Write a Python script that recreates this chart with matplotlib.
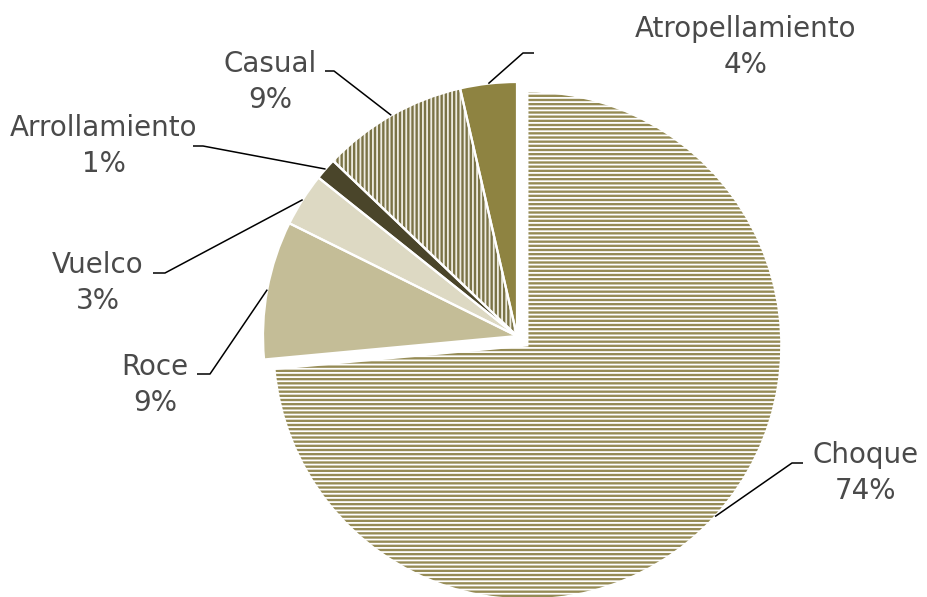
import numpy as np
import matplotlib
matplotlib.use('Agg')
import matplotlib.pyplot as plt

# Data (clockwise from 12 o'clock)

categories = ['Choque', 'Roce', 'Vuelco', 'Arrollamiento', 'Casual', 'Atropellamiento']
shares     = [73.6, 8.8, 3.4, 1.4, 9.3, 3.6]

# Styles

W, H     = 927, 597
COLORS   = ['#958B55', '#C4BD97', '#DDD9C3', '#4A452A', '#7A7346', '#8E8341']
HATCHES  = ['----', None, None, None, '||||', None]
HATCH_FG = ['white', None, None, None, '#EEECE1', None]
EXPLODE  = [14, 0, 0, 0, 0, 0]     # pie() offsets in data units (= pixels here)
TEXT     = '#4A4A4A'

# pie centre / radius in pixels (y measured from top of the image)
CX, CY_TOP, R = 517, 336, 254

# label layout, pixels from top-left: (text centre x, name baseline y), knee, line end
LAYOUT = [
    ((866, 463), (792, 463), (803, 463)),
    ((155, 375), (210, 374), (197, 374)),
    ((98, 273),  (165, 273), (153, 273)),
    ((104, 136), (203, 146), (193, 146)),
    ((270, 72),  (334, 71),  (325, 71)),
    ((746, 37),  (523, 53),  (534, 53)),
]

plt.rcParams['hatch.linewidth'] = 1.3
plt.rcParams['font.family'] = 'DejaVu Sans'

fig = plt.figure(figsize=(W / 100, H / 100), dpi=100)
ax = fig.add_axes([0, 0, 1, 1])

wedges, _ = ax.pie(shares, colors=COLORS, startangle=90, counterclock=False,
                   center=(CX, H - CY_TOP), radius=R, explode=EXPLODE,
                   wedgeprops=dict(linewidth=0), frame=True)

for w, h, fg in zip(wedges, HATCHES, HATCH_FG):
    if h:
        w.set_hatch(h)
        w.set_edgecolor(fg)
        w.set_linewidth(0)

# white separators drawn on top
ax.pie(shares, startangle=90, counterclock=False,
       center=(CX, H - CY_TOP), radius=R, explode=EXPLODE,
       wedgeprops=dict(facecolor='none', edgecolor='white', linewidth=1.6),
       frame=True)

for w, name, val, (txt, knee, end) in zip(wedges, categories, shares, LAYOUT):
    mid = np.radians((w.theta1 + w.theta2) / 2)
    px, py = w.center[0] + w.r * np.cos(mid), w.center[1] + w.r * np.sin(mid)
    ax.plot([px, knee[0], end[0]], [py, H - knee[1], H - end[1]],
            color='black', linewidth=1.1, solid_capstyle='butt')
    ax.text(txt[0], H - txt[1], name, ha='center', va='baseline',
            fontsize=20, color=TEXT)
    ax.text(txt[0], H - txt[1] - 36, f"{val:.0f}%", ha='center', va='baseline',
            fontsize=20, color=TEXT)

ax.set_xlim(0, W)
ax.set_ylim(0, H)
ax.set_aspect('equal')
ax.axis('off')

fig.savefig('out.png', dpi=100, facecolor='white')
